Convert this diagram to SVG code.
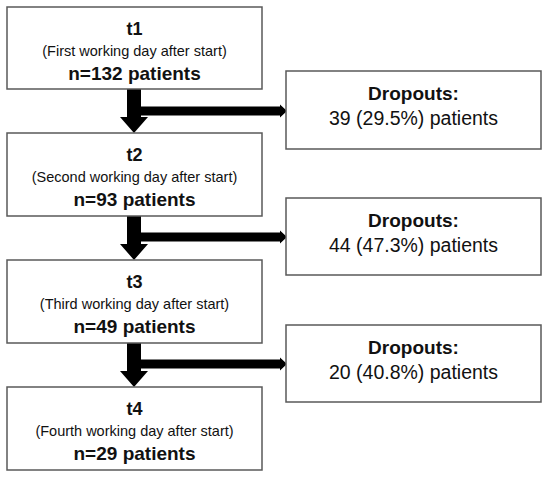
<svg xmlns="http://www.w3.org/2000/svg" width="550" height="478" viewBox="0 0 550 478">
<style>
.box{fill:#fff;stroke:#595959;stroke-width:1.5}
text{font-family:"Liberation Sans",Arial,sans-serif;fill:#111;text-anchor:middle}
.ttl{font-size:18px;font-weight:bold}
.sub{font-size:14.5px}
.n{font-size:19px;font-weight:bold}
.dh{font-size:19px;font-weight:bold}
.dv{font-size:19.5px}
.ar{fill:#000}
</style>
<rect width="550" height="478" fill="#fff"/>
<g id="connectors">
<path class="ar" d="M127,89 H141 V117 H148 L134,133 L120,117 H127 Z"/>
<path class="ar" d="M141,106.5 H280 V104.5 L287,111 L280,117.5 V115.5 H141 Z"/>
<path class="ar" d="M127,216 H141 V244 H148 L134,260 L120,244 H127 Z"/>
<path class="ar" d="M141,232.5 H280 V230.5 L287,237 L280,243.5 V241.5 H141 Z"/>
<path class="ar" d="M127,343 H141 V371 H148 L134,387 L120,371 H127 Z"/>
<path class="ar" d="M141,359.5 H280 V357.5 L287,364 L280,370.5 V368.5 H141 Z"/>
</g>
<g id="t1">
<rect class="box" x="7" y="7" width="255" height="82"/>
<text class="ttl" x="134.5" y="35">t1</text>
<text class="sub" x="134.5" y="56">(First working day after start)</text>
<text class="n" x="134.5" y="80">n=132 patients</text>
</g>
<g id="t2">
<rect class="box" x="7" y="133" width="255" height="83"/>
<text class="ttl" x="134.5" y="161">t2</text>
<text class="sub" x="134.5" y="182">(Second working day after start)</text>
<text class="n" x="134.5" y="206">n=93 patients</text>
</g>
<g id="t3">
<rect class="box" x="7" y="260" width="255" height="83"/>
<text class="ttl" x="134.5" y="288">t3</text>
<text class="sub" x="134.5" y="309">(Third working day after start)</text>
<text class="n" x="134.5" y="333">n=49 patients</text>
</g>
<g id="t4">
<rect class="box" x="7" y="387" width="255" height="83"/>
<text class="ttl" x="134.5" y="415">t4</text>
<text class="sub" x="134.5" y="436">(Fourth working day after start)</text>
<text class="n" x="134.5" y="460">n=29 patients</text>
</g>
<g id="d1">
<rect class="box" x="286" y="71" width="255" height="78"/>
<text class="dh" x="413.5" y="100">Dropouts:</text>
<text class="dv" x="413.5" y="125">39 (29.5%) patients</text>
</g>
<g id="d2">
<rect class="box" x="286" y="198" width="255" height="77"/>
<text class="dh" x="413.5" y="227">Dropouts:</text>
<text class="dv" x="413.5" y="252">44 (47.3%) patients</text>
</g>
<g id="d3">
<rect class="box" x="286" y="325" width="255" height="77"/>
<text class="dh" x="413.5" y="354">Dropouts:</text>
<text class="dv" x="413.5" y="379">20 (40.8%) patients</text>
</g>
</svg>
